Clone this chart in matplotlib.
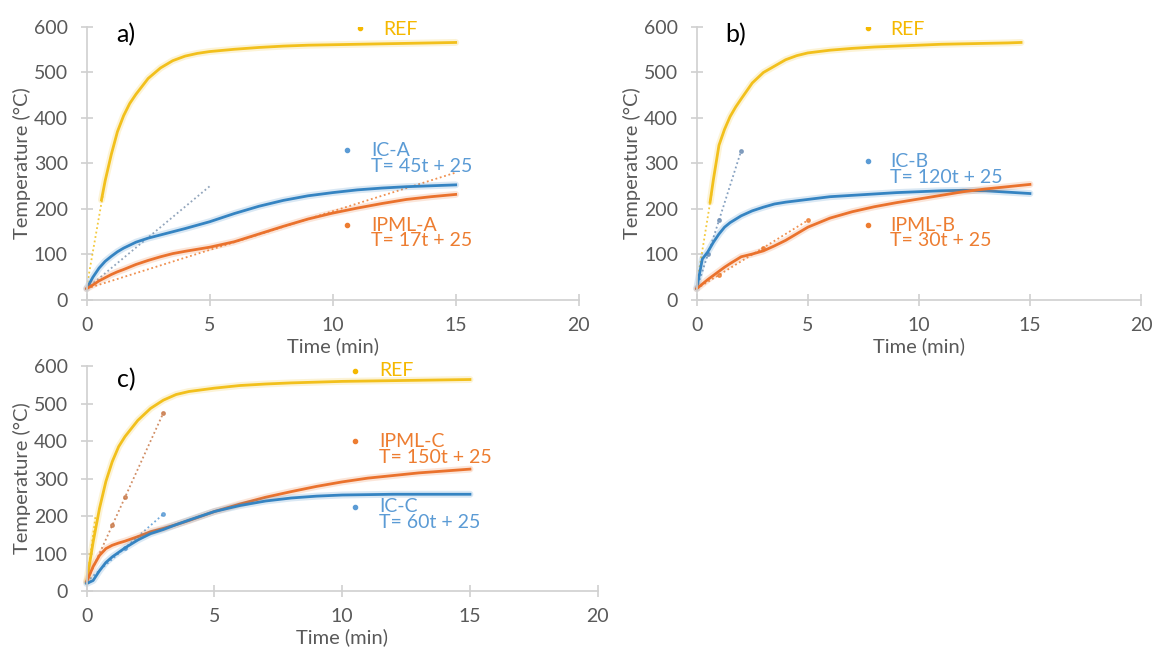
import matplotlib
matplotlib.use("Agg")
import matplotlib.pyplot as plt

plt.rcParams['font.family'] = ['Lato', 'DejaVu Sans']

# time axis (min)
t = [0, 0.25, 0.5, 0.75, 1, 1.25, 1.5, 2, 2.5, 3, 3.5, 4, 5, 6, 7, 8, 9, 10, 11, 12, 13, 14, 15]
t_ref_a = [0.6, 0.75, 1, 1.25, 1.5, 1.75, 2, 2.5, 3, 3.5, 4, 4.5, 5, 6, 7, 8, 9, 10, 11, 12, 13, 14, 15]
t_ref_b = [0.6, 0.75, 1, 1.25, 1.5, 1.75, 2, 2.5, 3, 3.5, 4, 4.5, 5, 6, 7, 8, 9, 10, 11, 12, 13, 14, 14.6]

# panel a
ref_a = [220, 262, 320, 370, 405, 432, 452, 487, 510, 526, 536, 542, 546, 551, 555, 558, 560, 561, 562, 563, 564, 565, 566]
ic_a = [25, 50, 70, 85, 96, 106, 114, 127, 136, 143, 150, 157, 172, 190, 206, 219, 229, 236, 242, 246, 249, 251, 253]
ipml_a = [25, 33, 42, 49, 56, 62, 67, 78, 87, 95, 102, 107, 116, 128, 145, 162, 178, 191, 202, 212, 221, 227, 232]

# panel b
ref_b = [215, 265, 340, 375, 403, 424, 442, 477, 500, 514, 528, 537, 543, 549, 553, 556, 558, 560, 562, 563, 564, 565, 566]
ic_b = [25, 90, 106, 127, 145, 160, 170, 185, 196, 204, 211, 215, 221, 227, 230, 233, 236, 238, 240, 241, 240, 237, 234]
ipml_b = [25, 35, 45, 54, 63, 72, 80, 95, 101, 108, 119, 131, 160, 180, 194, 205, 214, 222, 230, 238, 244, 249, 254]

# panel c
ref_c = [25, 130, 220, 292, 345, 385, 412, 455, 487, 509, 524, 532, 541, 548, 552, 555, 557, 559, 560, 561, 562, 563, 564]
ic_c = [20, 28, 54, 76, 91, 103, 115, 136, 153, 164, 177, 189, 212, 228, 240, 248, 253, 256, 257, 258, 258, 258, 258]
ipml_c = [25, 65, 95, 113, 122, 128, 133, 145, 158, 167, 177, 188, 212, 232, 250, 265, 279, 291, 301, 308, 315, 320, 325]

# linear trend lines (x, y)
trend_a = {'ref': ([0, 0.67], [29, 235]), 'ic': ([0, 5], [25, 250]), 'ipml': ([0, 15], [25, 280])}
trend_b = {'ref': ([0, 0.67], [33, 235]), 'ic': ([0, 0.5, 1, 2], [25, 100, 175, 328]),
           'ipml': ([0, 1, 3, 5], [25, 55, 115, 175])}
trend_c = {'ref': ([0, 0.35], [25, 200]), 'ic': ([0, 1.5, 3], [25, 115, 205]),
           'ipml': ([0, 1, 1.5, 3], [25, 175, 250, 475])}

YELLOW = '#F2C01C'
BLUE = '#3584C2'
ORANGE = '#EA722D'
BLUE_T = '#5B9BD5'
ORANGE_T = '#ED7D31'
GOLD_T = '#F5B800'
GRAY = '#595959'

fig = plt.figure(figsize=(11.53, 6.55), dpi=100)


def style(ax):
    ax.set_xlim(0, 20)
    ax.set_ylim(0, 600)
    ax.set_xticks([0, 5, 10, 15, 20])
    ax.set_yticks(range(0, 601, 100))
    for s in ['top', 'right']:
        ax.spines[s].set_visible(False)
    for s in ['left', 'bottom']:
        ax.spines[s].set_color('#d0d0d0')
        ax.spines[s].set_linewidth(1.2)
    ax.tick_params(direction='inout', length=9, width=1.2, color='#d0d0d0',
                   labelcolor=GRAY, labelsize=14)
    ax.tick_params(axis='y', pad=9)
    ax.tick_params(axis='x', pad=8)
    ax.set_xlabel('Time (min)', color=GRAY, fontsize=14.5, labelpad=2)
    ax.set_ylabel('Temperature (°C)', color=GRAY, fontsize=14.5, labelpad=2)
    ax.patch.set_alpha(0)


def curve(ax, x, y, c):
    ax.plot(x, y, color=c, lw=5, alpha=0.18, solid_capstyle='round', clip_on=False)
    ax.plot(x, y, color=c, lw=2, clip_on=False)


def trend(ax, xy, c, marks=True):
    x, y = xy
    ax.plot(x, y, color=c, lw=1.3, ls=(0, (1, 1.5)), alpha=0.85)
    if marks:
        ax.plot(x[1:], y[1:], 'o', color=c, ms=2.5, alpha=0.8)


def label(ax, x, y, text, c, dx=0.95, dy=0):
    ax.plot([x], [y], 'o', color=c, ms=3)
    ax.text(x + dx, y + dy, text, color=c, fontsize=14, va='top', ha='left',
            linespacing=0.9)


# ---- a)
ax = fig.add_axes([0.0752, 0.542, 0.4267, 0.4168])
style(ax)
trend(ax, trend_a['ref'], YELLOW, marks=False)
trend(ax, trend_a['ic'], '#7f95b0', marks=False)
trend(ax, trend_a['ipml'], ORANGE_T, marks=False)
curve(ax, t_ref_a, ref_a, YELLOW)
curve(ax, t, ic_a, BLUE)
curve(ax, t, ipml_a, ORANGE)
label(ax, 11.1, 598, 'REF', GOLD_T, dy=16)
label(ax, 10.6, 329, 'IC-A\nT= 45t + 25', BLUE_T, dy=18)
label(ax, 10.6, 165, 'IPML-A\nT= 17t + 25', ORANGE_T, dy=18)
ax.text(1.2, 584, 'a)', fontsize=18, va='center', ha='left', color='black')

# ---- b)
ax = fig.add_axes([0.6043, 0.542, 0.3853, 0.4168])
style(ax)
trend(ax, trend_b['ref'], YELLOW, marks=False)
trend(ax, trend_b['ic'], '#6f8fb5')
trend(ax, trend_b['ipml'], ORANGE_T)
curve(ax, t_ref_b, ref_b, YELLOW)
curve(ax, t, ic_b, BLUE)
curve(ax, t, ipml_b, ORANGE)
label(ax, 7.7, 598, 'REF', GOLD_T, dx=1.0, dy=16)
label(ax, 7.7, 305, 'IC-B\nT= 120t + 25', BLUE_T, dx=1.0, dy=18)
label(ax, 7.7, 165, 'IPML-B\nT= 30t + 25', ORANGE_T, dx=1.0, dy=18)
ax.text(1.3, 584, 'b)', fontsize=18, va='center', ha='left', color='black')

# ---- c)
ax = fig.add_axes([0.0752, 0.0977, 0.4432, 0.3435])
style(ax)
trend(ax, trend_c['ref'], YELLOW, marks=False)
trend(ax, trend_c['ipml'], '#c97a4a')
trend(ax, trend_c['ic'], BLUE_T)
curve(ax, t, ref_c, YELLOW)
curve(ax, t, ipml_c, ORANGE)
curve(ax, t, ic_c, BLUE)
label(ax, 10.5, 588, 'REF', GOLD_T, dy=22)
label(ax, 10.5, 399, 'IPML-C\nT= 150t + 25', ORANGE_T, dy=22)
label(ax, 10.5, 225, 'IC-C\nT= 60t + 25', BLUE_T, dy=22)
ax.text(1.2, 564, 'c)', fontsize=18, va='center', ha='left', color='black')

fig.savefig('out.png', dpi=100)
